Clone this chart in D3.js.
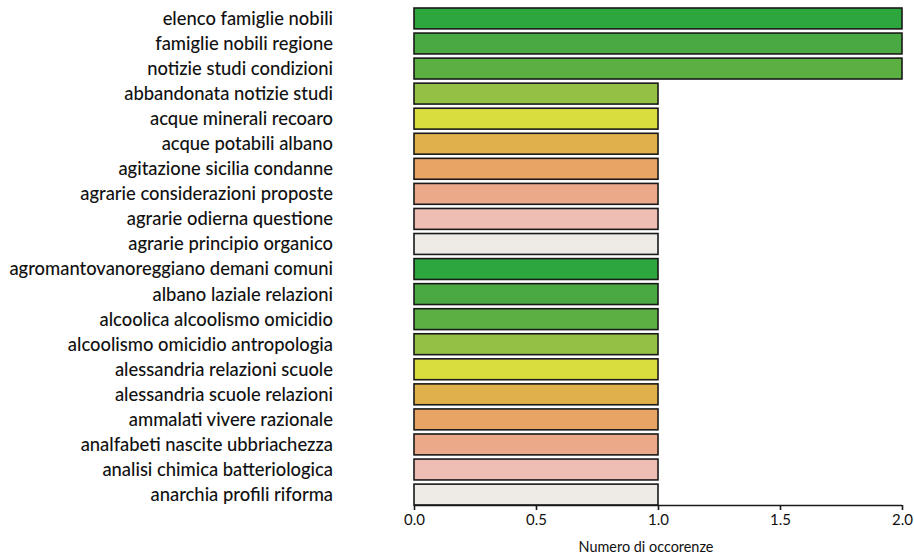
<!DOCTYPE html>
<html><head><meta charset="utf-8">
<script src="https://cdn.jsdelivr.net/npm/d3@7"></script>
<style>body{margin:0;background:#fff}svg{display:block}</style>
</head><body>
<svg id="c" width="914" height="555"></svg>
<script>
const categories = [
 "elenco famiglie nobili","famiglie nobili regione","notizie studi condizioni","abbandonata notizie studi",
 "acque minerali recoaro","acque potabili albano","agitazione sicilia condanne","agrarie considerazioni proposte",
 "agrarie odierna questione","agrarie principio organico","agromantovanoreggiano demani comuni","albano laziale relazioni",
 "alcoolica alcoolismo omicidio","alcoolismo omicidio antropologia","alessandria relazioni scuole","alessandria scuole relazioni",
 "ammalati vivere razionale","analfabeti nascite ubbriachezza","analisi chimica batteriologica","anarchia profili riforma"];
const values = [2,2,2,1,1,1,1,1,1,1,1,1,1,1,1,1,1,1,1,1];
const palette = ["#2da63e","#4ba944","#5cb042","#95c046","#dadd3e","#e0b14a","#e8a464","#eba98a","#eebdb4","#eeebe7"];
const ticks = [0,0.5,1,1.5,2];
const xTitle = "Numero di occorenze";

const FONT = "Lato, 'Open Sans', sans-serif";
const svg = d3.select("#c");
const x = d3.scaleLinear().domain([0,2]).range([414,902]);
const y = d3.scaleBand().domain(categories).range([8,505]).paddingInner(1/6).paddingOuter(0);

svg.selectAll("rect.bar").data(categories).join("rect")
  .attr("x", x(0)).attr("y", d=>y(d)).attr("width", (d,i)=>x(values[i])-x(0)).attr("height", y.bandwidth())
  .attr("fill", (d,i)=>palette[i%palette.length]).attr("stroke","#1a1a1a").attr("stroke-width",1.6);

const lab = svg.append("g").attr("font-family",FONT).attr("fill","#111");
const texts = lab.selectAll("text").data(categories).join("text")
  .attr("x",333).attr("y",d=>y(d)+y.bandwidth()/2).attr("dy","0.35em").attr("text-anchor","end")
  .attr("font-size",14).attr("font-weight",500).text(d=>d);
let maxW = 0; texts.each(function(){maxW=Math.max(maxW,this.getComputedTextLength());});
texts.attr("font-size",14*324/maxW);

const ax = svg.append("g").attr("transform","translate(0,505)")
  .call(d3.axisBottom(x).tickValues(ticks).tickSize(5).tickFormat(d3.format(".1f")));
ax.attr("font-size",null).attr("font-family",null);
ax.select(".domain").attr("stroke","#1a1a1a").attr("stroke-width",1.6).attr("d",`M${x(0)},0.5H${x(2)}`);
ax.selectAll(".tick line").attr("stroke","#1a1a1a").attr("stroke-width",1.6).attr("y2",5);
ax.selectAll(".tick text").attr("font-family",FONT).attr("font-size",15).attr("fill","#111").attr("y",9);

const title = svg.append("text").attr("x",x(1)-12).attr("y",552).attr("text-anchor","middle")
  .attr("font-family",FONT).attr("font-size",14).attr("fill","#111").text(xTitle);
const tw = title.node().getComputedTextLength();
title.attr("font-size",14*135/tw);
</script>
</body></html>
